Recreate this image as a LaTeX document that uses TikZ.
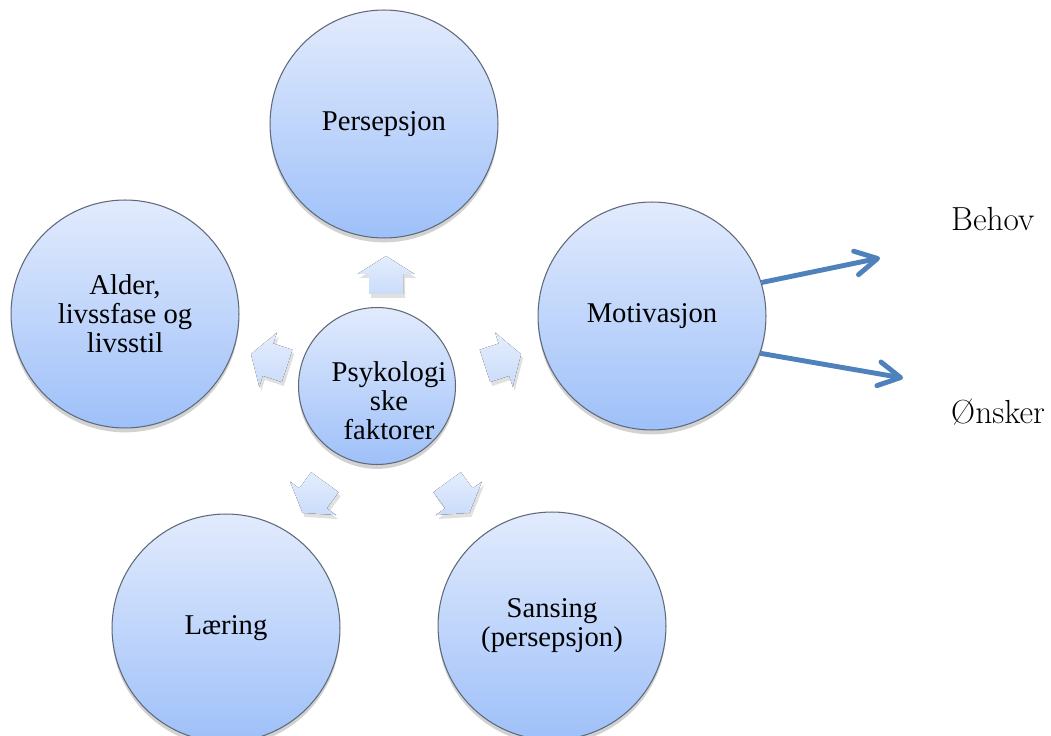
\documentclass[tikz,border=0pt]{standalone}
\usepackage{fontspec}
\usepackage{tikz}
\usetikzlibrary{arrows.meta, shadows}
\newfontfamily\circfont{Liberation Serif}
\definecolor{circtop}{RGB}{226, 235, 253}
\definecolor{circbot}{RGB}{158, 192, 249}
\definecolor{circline}{RGB}{95, 105, 120}
\definecolor{arrtop}{RGB}{228, 237, 253}
\definecolor{arrbot}{RGB}{202, 220, 250}
\definecolor{needblue}{RGB}{79, 129, 189}

\tikzset{
  factor/.style={circle, draw=circline, line width=0.6pt, top color=circtop,
    bottom color=circbot, minimum size=4.56cm, inner sep=0pt, align=center,
    font=\circfont\fontsize{16.3}{16.5}\selectfont,
    drop shadow={shadow xshift=0pt, shadow yshift=-2.5pt, opacity=0.25, fill=black!70}},
  core/.style={factor, minimum size=3.14cm},
  blockarrow/.style={top color=arrtop, bottom color=arrbot, draw=none},
  blockshadow/.style={fill=black, opacity=0.12, draw=none},
  needarrow/.style={draw=needblue, line width=2.8pt,
    -{Straight Barb[length=4.4mm, width=4.8mm, round]}},
  needlabel/.style={anchor=west, font=\fontsize{19}{22}\selectfont}
}

\begin{document}
\begin{tikzpicture}[x=0.02cm, y=-0.02cm]
  \useasboundingbox (0,0) rectangle (1051,736);

  % small arrows round the core
  \foreach \ang in {90, 18, 162, 234, 306} {
    \fill[blockshadow, shift={(388,402)}, rotate=\ang]
      (104,-17) -- (124,-17) -- (124,-28.5) -- (142,0) -- (124,28.5) -- (124,17) -- (104,17) -- cycle;
    \fill[blockarrow, shift={(386,398)}, rotate=\ang]
      (104,-17) -- (124,-17) -- (124,-28.5) -- (142,0) -- (124,28.5) -- (124,17) -- (104,17) -- cycle;
  }

  % circles
  \node[core, label={[font=\circfont\fontsize{16.3}{16.5}\selectfont, align=center,
      xshift=0.24cm, yshift=-0.3cm]center:Psykologi\\ske\\faktorer}] (psy) at (377,386) {};
  \node[factor] (per) at (384,124) {Persepsjon};
  \node[factor] (mot) at (652,316) {Motivasjon};
  \node[factor] (ald) at (125,314) {Alder,\\livssfase og\\livsstil};
  \node[factor] (lae) at (226,628) {Læring};
  \node[factor] (san) at (552,626) {Sansing\\(persepsjon)};

  % behov og ønsker
  \coordinate (behovtip) at (880,258);
  \coordinate (onsktip) at (903,378);
  \draw[needarrow] (mot.17) -- (behovtip);
  \draw[needarrow] (mot.-19) -- (onsktip);
  \node[needlabel] (behov) at (945,219) {Behov};
  \node[needlabel] (onsker) at (945,412) {Ønsker};
\end{tikzpicture}
\end{document}
